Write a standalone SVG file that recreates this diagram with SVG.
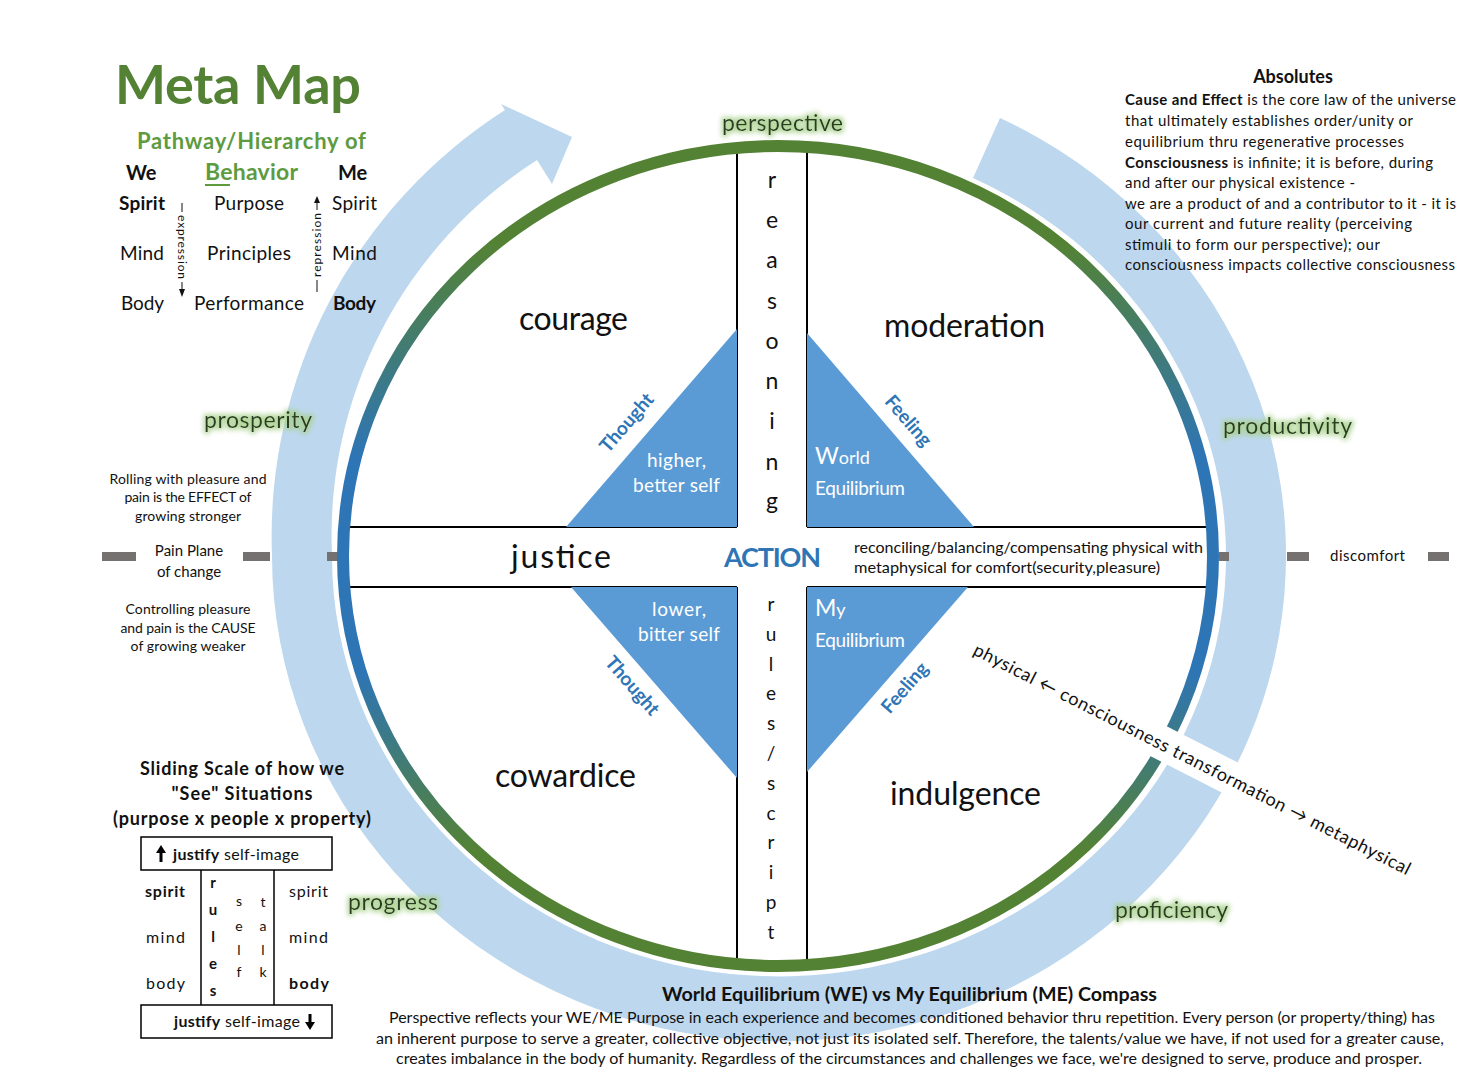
<svg xmlns="http://www.w3.org/2000/svg" width="1475" height="1080" viewBox="0 0 1475 1080">
<defs>
<linearGradient id="ring" x1="0" y1="0" x2="0" y2="1">
<stop offset="0" stop-color="#548235"/>
<stop offset="0.12" stop-color="#548235"/>
<stop offset="0.38" stop-color="#2E75B6"/>
<stop offset="0.64" stop-color="#2E75B6"/>
<stop offset="0.86" stop-color="#548235"/>
<stop offset="1" stop-color="#548235"/>
</linearGradient>
<filter id="glow" x="-20%" y="-50%" width="140%" height="200%">
<feMorphology in="SourceAlpha" operator="dilate" radius="2" result="d"/>
<feGaussianBlur in="d" stdDeviation="2.5" result="b"/>
<feFlood flood-color="#A9D18E" flood-opacity="0.85"/>
<feComposite in2="b" operator="in" result="g"/>
<feMerge><feMergeNode in="g"/><feMergeNode in="SourceGraphic"/></feMerge>
</filter>
</defs>
<style>
text{font-family:Lato,"Open Sans","Liberation Sans",sans-serif;fill:#111;}
.b{font-weight:bold;}
.q{font-size:32px;}
.lbl{font-size:23px;fill:#2B3D22;filter:url(#glow);}
.tri{fill:#5B9BD5;}
.wt{fill:#fff;font-size:19px;}
.th{fill:#2E75B6;font-size:19px;font-weight:bold;text-anchor:middle;}
.ln{stroke:#000;stroke-width:2;fill:none;}
.dash{fill:#767171;}
.col{font-size:23px;text-anchor:middle;}
.col2{font-size:19px;text-anchor:middle;}
.abs{font-size:15px;}
.sm{font-size:14px;text-anchor:middle;}
.row{font-size:19px;}
.tb{font-size:16px;}
.cap{font-size:15.5px;}
</style>
<rect width="1475" height="1080" fill="#fff"/>

<g id="band">
<path d="M1000,118 A507,486 0 1 1 272,556 A506,506 0 0 1 505,110 L501,104 L572,137 L552,184 L537,160 A446,446 0 0 0 332,556 A447,420 0 1 0 973,178 Z" fill="#BDD7EE"/>
</g>

<g id="pain-plane">
<rect class="dash" x="102" y="552" width="34" height="9"/>
<rect class="dash" x="243" y="552" width="27" height="9"/>
<rect class="dash" x="327" y="552" width="12" height="9"/>
<rect class="dash" x="1219" y="552" width="10" height="9"/>
<rect class="dash" x="1287" y="552" width="22" height="9"/>
<rect class="dash" x="1428" y="552" width="21" height="9"/>
<text x="189" y="556" font-size="15" text-anchor="middle">Pain Plane</text>
<text x="189" y="577" font-size="15" text-anchor="middle">of change</text>
<text x="1330" y="561" font-size="15" textLength="75">discomfort</text>
</g>

<g id="cross">
<line class="ln" x1="737" y1="150" x2="737" y2="527"/>
<line class="ln" x1="807" y1="150" x2="807" y2="527"/>
<line class="ln" x1="737" y1="587" x2="737" y2="962"/>
<line class="ln" x1="807" y1="587" x2="807" y2="962"/>
<line class="ln" x1="346" y1="527" x2="737" y2="527"/>
<line class="ln" x1="807" y1="527" x2="1210" y2="527"/>
<line class="ln" x1="346" y1="587" x2="737" y2="587"/>
<line class="ln" x1="807" y1="587" x2="1210" y2="587"/>
</g>

<g id="triangles">
<polygon class="tri" points="566,527 737,527 737,329"/>
<polygon class="tri" points="807,333 807,527 974,527"/>
<polygon class="tri" points="571,587 737,587 737,778"/>
<polygon class="tri" points="807,587 968,587 807,772"/>
</g>

<g id="circle">
<ellipse cx="778" cy="556" rx="435" ry="410" fill="none" stroke="url(#ring)" stroke-width="12"/>
</g>

<g id="transformation">
<g transform="translate(972,654) rotate(27)">
<rect x="165" y="-24" width="150" height="34" fill="#fff"/>
<text x="0" y="0" font-size="18" textLength="488">physical ← consciousness transformation → metaphysical</text>
</g>
</g>

<g id="quadrants">
<text class="q" x="519" y="330" textLength="109">courage</text>
<text class="q" x="884" y="337" textLength="161">moderation</text>
<text class="q" x="511" y="568" textLength="100">justice</text>
<text class="q" x="495" y="787" textLength="141">cowardice</text>
<text class="q" x="890" y="805" textLength="151">indulgence</text>
<text class="b" x="724" y="567" font-size="27" fill="#2E75B6" style="fill:#2E75B6" textLength="97">ACTION</text>
<text x="854" y="553" font-size="15" textLength="349" lengthAdjust="spacingAndGlyphs">reconciling/balancing/compensating physical with</text>
<text x="854" y="573" font-size="15" textLength="306" lengthAdjust="spacingAndGlyphs">metaphysical for comfort(security,pleasure)</text>
</g>

<g id="triangle-text">
<text class="wt" x="647" y="467" textLength="59">higher,</text>
<text class="wt" x="633" y="492" textLength="87">better self</text>
<text class="wt" x="815" y="464"><tspan font-size="23">W</tspan><tspan font-size="18">orld</tspan></text>
<text class="wt" x="815" y="495" font-size="18" textLength="90">Equilibrium</text>
<text class="wt" x="652" y="616" textLength="54">lower,</text>
<text class="wt" x="638" y="641" textLength="82">bitter self</text>
<text class="wt" x="815" y="616"><tspan font-size="23">M</tspan><tspan font-size="18">y</tspan></text>
<text class="wt" x="815" y="647" font-size="18" textLength="90">Equilibrium</text>
<text class="th" transform="translate(627,423) rotate(-49)" y="6">Thought</text>
<text class="th" transform="translate(908,421) rotate(49)" y="6">Feeling</text>
<text class="th" transform="translate(632,686) rotate(49)" y="6">Thought</text>
<text class="th" transform="translate(905,688) rotate(-49)" y="6">Feeling</text>
</g>

<g id="reasoning">
<text class="col" x="772" y="188">r</text>
<text class="col" x="772" y="228">e</text>
<text class="col" x="772" y="268">a</text>
<text class="col" x="772" y="309">s</text>
<text class="col" x="772" y="349">o</text>
<text class="col" x="772" y="389">n</text>
<text class="col" x="772" y="429">i</text>
<text class="col" x="772" y="470">n</text>
<text class="col" x="772" y="509">g</text>
</g>

<g id="rules-script">
<text class="col2" x="771" y="611">r</text>
<text class="col2" x="771" y="641">u</text>
<text class="col2" x="771" y="671">l</text>
<text class="col2" x="771" y="700">e</text>
<text class="col2" x="771" y="730">s</text>
<text class="col2" x="771" y="760">/</text>
<text class="col2" x="771" y="790">s</text>
<text class="col2" x="771" y="820">c</text>
<text class="col2" x="771" y="849">r</text>
<text class="col2" x="771" y="879">i</text>
<text class="col2" x="771" y="909">p</text>
<text class="col2" x="771" y="939">t</text>
</g>

<g id="ring-labels">
<text class="lbl" x="722" y="131" textLength="121">perspective</text>
<text class="lbl" x="204" y="428" textLength="108">prosperity</text>
<text class="lbl" x="1223" y="434" textLength="129">productivity</text>
<text class="lbl" x="348" y="910" textLength="90">progress</text>
<text class="lbl" x="1115" y="918" textLength="113">proficiency</text>
</g>

<g id="title">
<text class="b" x="115" y="104" font-size="54" style="fill:#548235" textLength="246">Meta Map</text>
<text class="b" x="137" y="149" font-size="22" style="fill:#5E9B3F" textLength="229">Pathway/Hierarchy of</text>
<text class="b" x="205" y="180" font-size="23" style="fill:#5E9B3F" textLength="93">Behavior</text>
<line x1="205" y1="185" x2="230" y2="185" stroke="#5E9B3F" stroke-width="2"/>
<text class="b" x="126" y="180" font-size="20">We</text>
<text class="b" x="338" y="180" font-size="20">Me</text>
</g>

<g id="hierarchy">
<text class="row b" x="119" y="210" textLength="46">Spirit</text>
<text class="row" x="214" y="210" textLength="70">Purpose</text>
<text class="row" x="332" y="210" textLength="45">Spirit</text>
<text class="row" x="120" y="260" textLength="44">Mind</text>
<text class="row" x="207" y="260" textLength="84">Principles</text>
<text class="row" x="332" y="260" textLength="45">Mind</text>
<text class="row" x="121" y="310" textLength="43">Body</text>
<text class="row" x="194" y="310" textLength="110">Performance</text>
<text class="row b" x="333" y="310" textLength="43">Body</text>
<text transform="translate(178,215) rotate(90)" font-size="12" textLength="64">expression</text>
<line x1="182" y1="203" x2="182" y2="212" stroke="#111" stroke-width="1"/>
<line x1="182" y1="282" x2="182" y2="290" stroke="#111" stroke-width="1"/>
<polygon points="179,289 185,289 182,297" fill="#111"/>
<text transform="translate(321,277) rotate(-90)" font-size="12" textLength="64">repression</text>
<line x1="317" y1="280" x2="317" y2="292" stroke="#111" stroke-width="1"/>
<line x1="317" y1="202" x2="317" y2="210" stroke="#111" stroke-width="1"/>
<polygon points="314,203 320,203 317,196" fill="#111"/>
</g>

<g id="absolutes">
<text class="b" x="1293" y="83" font-size="18" text-anchor="middle">Absolutes</text>
<text class="abs" x="1125" y="105" textLength="331"><tspan class="b">Cause and Effect</tspan> is the core law of the universe</text>
<text class="abs" x="1125" y="126" textLength="288">that ultimately establishes order/unity or</text>
<text class="abs" x="1125" y="147" textLength="279">equilibrium thru regenerative processes</text>
<text class="abs" x="1125" y="168" textLength="308"><tspan class="b">Consciousness</tspan> is infinite; it is before, during</text>
<text class="abs" x="1125" y="188" textLength="230">and after our physical existence -</text>
<text class="abs" x="1125" y="209" textLength="331">we are a product of and a contributor to it - it is</text>
<text class="abs" x="1125" y="229" textLength="287">our current and future reality (perceiving</text>
<text class="abs" x="1125" y="250" textLength="255">stimuli to form our perspective); our</text>
<text class="abs" x="1125" y="270" textLength="330">consciousness impacts collective consciousness</text>
</g>

<g id="pleasure-notes">
<text class="sm" x="188" y="484" textLength="157">Rolling with pleasure and</text>
<text class="sm" x="188" y="502" textLength="127">pain is the EFFECT of</text>
<text class="sm" x="188" y="521" textLength="106">growing stronger</text>
<text class="sm" x="188" y="614" textLength="125">Controlling pleasure</text>
<text class="sm" x="188" y="633" textLength="135">and pain is the CAUSE</text>
<text class="sm" x="188" y="651" textLength="115">of growing weaker</text>
</g>

<g id="sliding-scale">
<text class="b" x="242" y="775" font-size="18" text-anchor="middle" textLength="204">Sliding Scale of how we</text>
<text class="b" x="242" y="800" font-size="18" text-anchor="middle" textLength="141">"See" Situations</text>
<text class="b" x="113" y="825" font-size="18" textLength="258">(purpose x people x property)</text>
<rect x="141" y="837" width="191" height="33" fill="none" stroke="#000" stroke-width="1.5"/>
<rect x="141" y="1005" width="191" height="33" fill="none" stroke="#000" stroke-width="1.5"/>
<line x1="201" y1="870" x2="201" y2="1005" stroke="#000" stroke-width="1.5"/>
<line x1="274" y1="870" x2="274" y2="1005" stroke="#000" stroke-width="1.5"/>
<polygon points="156,853 161,845 166,853" fill="#000"/>
<rect x="159.5" y="852" width="3" height="10" fill="#000"/>
<text class="tb" x="173" y="860" textLength="126"><tspan class="b">justify</tspan> self-image</text>
<text class="tb" x="174" y="1027" textLength="126"><tspan class="b">justify</tspan> self-image</text>
<rect x="308.5" y="1014" width="3" height="9" fill="#000"/>
<polygon points="305,1022 315,1022 310,1030" fill="#000"/>
<text class="tb b" x="145" y="897" textLength="40">spirit</text>
<text class="tb" x="146" y="943" textLength="39">mind</text>
<text class="tb" x="146" y="989" textLength="39">body</text>
<text class="tb" x="289" y="897" textLength="39">spirit</text>
<text class="tb" x="289" y="943" textLength="39">mind</text>
<text class="tb b" x="289" y="989" textLength="40">body</text>
<g class="b" font-size="15" text-anchor="middle">
<text x="213" y="888">r</text>
<text x="213" y="915">u</text>
<text x="213" y="942">l</text>
<text x="213" y="969">e</text>
<text x="213" y="996">s</text>
</g>
<g font-size="14" text-anchor="middle">
<text x="239" y="906">s</text>
<text x="239" y="931">e</text>
<text x="239" y="955">l</text>
<text x="239" y="977">f</text>
<text x="263" y="907">t</text>
<text x="263" y="931">a</text>
<text x="263" y="955">l</text>
<text x="263" y="977">k</text>
</g>
</g>

<g id="caption">
<text class="b" x="662" y="1001" font-size="19" textLength="495" lengthAdjust="spacingAndGlyphs">World Equilibrium (WE) vs My Equilibrium (ME) Compass</text>
<text class="cap" x="389" y="1023" textLength="1046" lengthAdjust="spacingAndGlyphs">Perspective reflects your WE/ME Purpose in each experience and becomes conditioned behavior thru repetition. Every person (or property/thing) has</text>
<text class="cap" x="376" y="1044" textLength="1068" lengthAdjust="spacingAndGlyphs">an inherent purpose to serve a greater, collective objective, not just its isolated self. Therefore, the talents/value we have, if not used for a greater cause,</text>
<text class="cap" x="396" y="1064" textLength="1026" lengthAdjust="spacingAndGlyphs">creates imbalance in the body of humanity. Regardless of the circumstances and challenges we face, we're designed to serve, produce and prosper.</text>
</g>
</svg>
